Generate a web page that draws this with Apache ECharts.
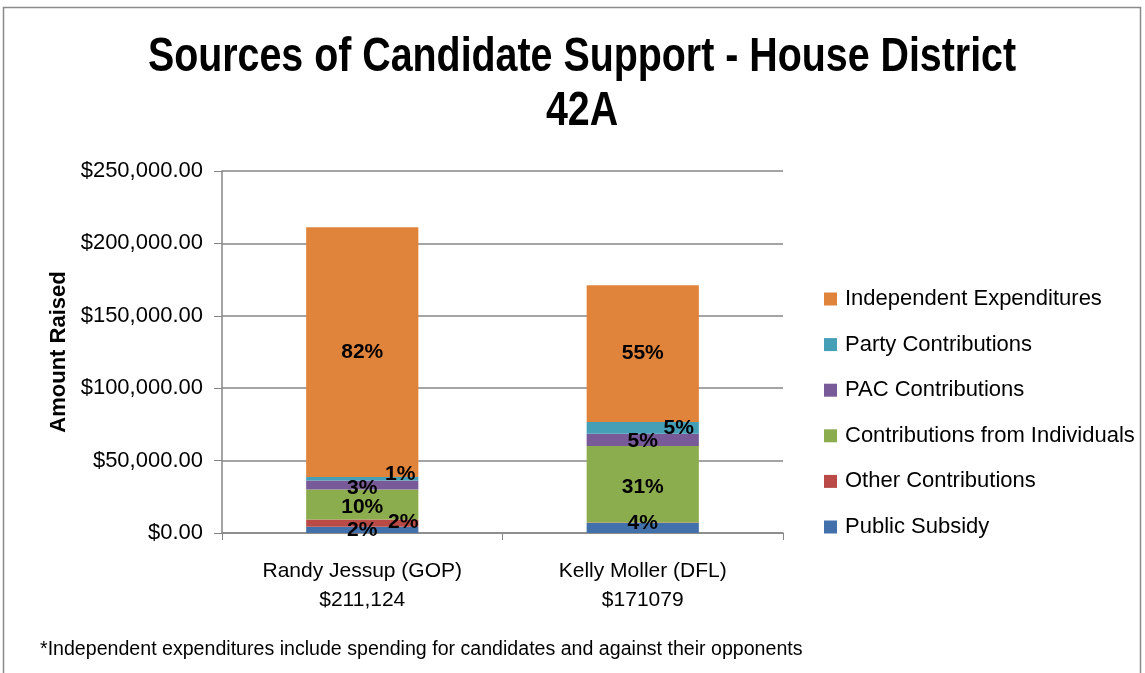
<!DOCTYPE html>
<html>
<head>
<meta charset="utf-8">
<script src="https://cdn.jsdelivr.net/npm/echarts@6/dist/echarts.min.js"></script>
<style>
  html, body { margin: 0; padding: 0; background: #fff; }
  #chart { width: 1145px; height: 673px; }
</style>
</head>
<body>
<div id="chart"></div>
<script>
// Candidates and the totals shown under their names
const categories = ["Randy Jessup (GOP)", "Kelly Moller (DFL)"];
const totalLabels = ["$211,124", "$171079"];

// Amounts raised by source (dollars), bottom of stack first
const publicSubsidy = [4300, 6900];
const otherContributions = [5000, 300];
const individualContributions = [20800, 52900];
const pacContributions = [6200, 8500];
const partyContributions = [2400, 8100];
const independentExpenditures = [172424, 94379];

const seriesNames = [
  "Public Subsidy",
  "Other Contributions",
  "Contributions from Individuals",
  "PAC Contributions",
  "Party Contributions",
  "Independent Expenditures"
];
const seriesData = [
  publicSubsidy, otherContributions, individualContributions,
  pacContributions, partyContributions, independentExpenditures
];
const colors = ["#4170aa", "#b94a45", "#8cad4e", "#785a98", "#459fb6", "#e0843c"];

const titleLines = ["Sources of Candidate Support - House District", "42A"];
const footnote = "*Independent expenditures include spending for candidates and against their opponents";

// Label nudges for the thin segments [series][category] -> [dx, dy]
const labelNudge = {
  0: { 0: [0, 0], 1: [0, -5] },
  1: { 0: [41, -1] },
  2: { 0: [0, 3], 1: [0, 3] },
  3: { 0: [0, 3], 1: [0, 1] },
  4: { 0: [38, -4], 1: [36, 0] }
};

const totals = categories.map((_, i) => seriesData.reduce((s, arr) => s + arr[i], 0));

const font = '"Liberation Sans", Arial, sans-serif';

const series = seriesNames.map((name, si) => ({
  name,
  type: "bar",
  stack: "total",
  barWidth: "40%",
  itemStyle: { color: colors[si] },
  data: seriesData[si].map((v, ci) => {
    const pct = Math.round((v / totals[ci]) * 100);
    const nudge = (labelNudge[si] && labelNudge[si][ci]) || [0, 0];
    return { value: v, label: { show: pct > 0, offset: nudge } };
  }),
  label: {
    position: "inside",
    color: "#000",
    fontFamily: font,
    fontWeight: "bold",
    fontSize: 21,
    formatter: p => Math.round((p.value / totals[p.dataIndex]) * 100) + "%"
  }
}));

// Condensed bold heading, centred over the plot
const titleY = [58, 112];
const titleGraphics = titleLines.map((line, i) => ({
  type: "text",
  x: 582,
  y: titleY[i],
  scaleX: 0.82,
  silent: true,
  style: {
    text: line,
    font: "bold 48px " + font,
    fill: "#000",
    align: "center",
    verticalAlign: "middle",
    textAlign: "center",
    textVerticalAlign: "middle"
  }
}));

const chart = echarts.init(document.getElementById("chart"), null, { renderer: "canvas" });
chart.setOption({
  animation: false,
  backgroundColor: "#fff",
  graphic: [
    {
      type: "rect",
      shape: { x: 3.5, y: 7.5, width: 1137, height: 700 },
      style: { fill: "none", stroke: "#8a8a8a", lineWidth: 1.5 },
      silent: true
    },
    ...titleGraphics,
    {
      type: "text",
      left: 40,
      top: 640,
      style: {
        text: footnote,
        fontFamily: font,
        fontSize: 19.6,
        fill: "#000"
      }
    }
  ],
  legend: {
    orient: "vertical",
    left: 819,
    top: 283,
    itemGap: 23.6,
    itemWidth: 13,
    itemHeight: 13,
    icon: "rect",
    data: seriesNames.slice().reverse(),
    textStyle: { fontFamily: font, fontSize: 22, color: "#000", padding: [0, 0, 0, 3] }
  },
  grid: { left: 222, right: 362, top: 171, bottom: 140 },
  xAxis: {
    type: "category",
    data: categories,
    axisLine: { lineStyle: { color: "#868686", width: 1.5 } },
    axisTick: { show: true, alignWithLabel: false, length: 7, lineStyle: { color: "#868686" } },
    axisLabel: {
      margin: 24,
      fontFamily: font,
      fontSize: 21,
      lineHeight: 29,
      color: "#000",
      formatter: (v, i) => v + "\n" + totalLabels[i]
    }
  },
  yAxis: {
    type: "value",
    min: 0,
    max: 250000,
    interval: 50000,
    name: "Amount Raised",
    nameLocation: "middle",
    nameGap: 152,
    nameTextStyle: { fontFamily: font, fontWeight: "bold", fontSize: 22, color: "#000" },
    axisLine: { show: true, lineStyle: { color: "#868686", width: 1.5 } },
    axisTick: { show: true, length: 8, lineStyle: { color: "#868686" } },
    splitLine: { lineStyle: { color: "#868686", width: 1.5 } },
    axisLabel: {
      margin: 19,
      fontFamily: font,
      fontSize: 22,
      color: "#000",
      formatter: v => "$" + v.toLocaleString("en-US", { minimumFractionDigits: 2, maximumFractionDigits: 2 })
    }
  },
  series
});
</script>
</body>
</html>
